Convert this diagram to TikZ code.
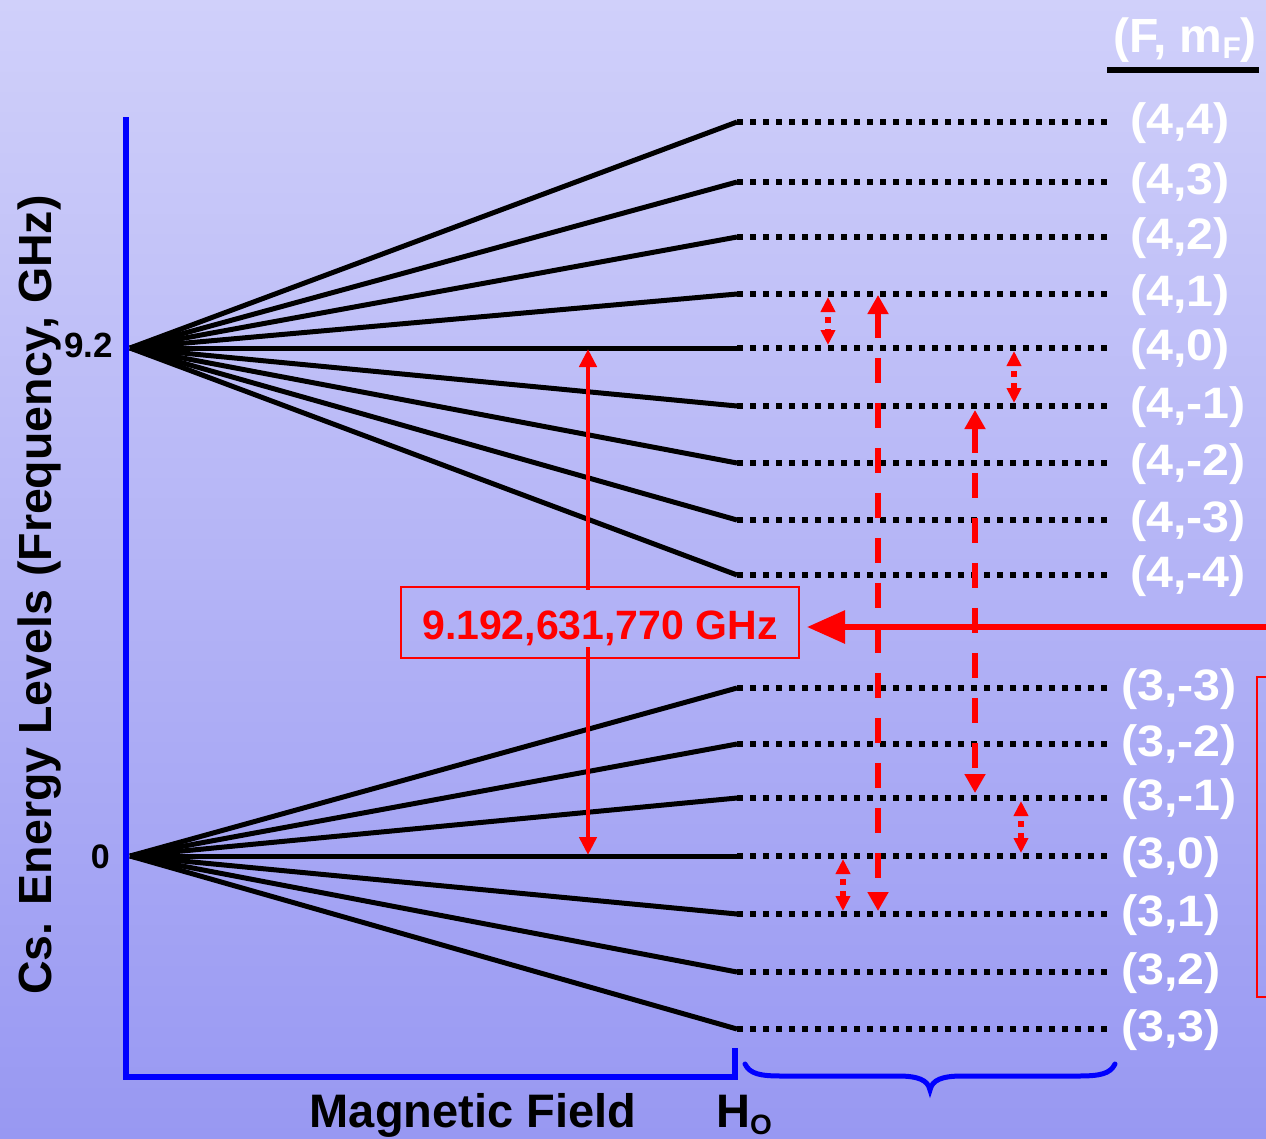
\documentclass[tikz,border=0pt]{standalone}
\usepackage{fontspec}
\setmainfont{Liberation Sans}
\newfontfamily\lblfont{Liberation Sans}[FakeStretch=1.1]
\usetikzlibrary{arrows.meta,calc}
\definecolor{bgtop}{RGB}{208,208,250}
\definecolor{bgmid}{RGB}{190,190,247}
\definecolor{bgbot}{RGB}{152,152,242}
\tikzset{
  fanline/.style={line width=5pt, black},
  dotline/.style={line width=6pt, black, dash pattern=on 6pt off 7pt},
  lbl/.style={text=white, font=\lblfont\bfseries\fontsize{44pt}{44pt}\selectfont, inner sep=0pt},
  axisline/.style={blue, line width=6pt},
  smallarr/.style={red, line width=6pt, {Triangle[length=15pt,width=14pt]}-{Triangle[length=15pt,width=14pt]}, dash pattern=on 6pt off 6pt, dash phase=6pt, shorten <=3pt, shorten >=3pt},
  longarr/.style={red, line width=6pt, {Triangle[length=19pt,width=20pt]}-{Triangle[length=19pt,width=20pt]}, dash pattern=on 25pt off 20pt},
  maintip/.tip={Triangle[length=18pt,width=17pt]},
  mainarr/.style={red, line width=4.5pt},
  bigarr/.style={red, line width=6pt, -{Triangle[length=38pt,width=32pt]}},
}
\begin{document}
\begin{tikzpicture}[x=1pt,y=-1pt]
\shade[top color=bgtop, middle color=bgmid, bottom color=bgbot] (0,0) rectangle (1266,1138);
\useasboundingbox (0,0) rectangle (1266,1138);

% origins
\coordinate (O4) at (130,348);
\coordinate (O3) at (130,856);

% F=4 levels
\foreach \k/\m/\y in {p4/4/122, p3/3/182, p2/2/237, p1/1/294, z/0/348, m1/-1/406, m2/-2/463, m3/-3/520, m4/-4/575} {
  \coordinate (A4\k) at (737,\y);
  \coordinate (B4\k) at (1107,\y);
  \draw[fanline] (O4) -- (A4\k);
  \draw[dotline] (A4\k) -- (B4\k);
  \node[lbl, anchor=base west] (T4\k) at (1130,\y+12) {(4,\m)};
}
% F=3 levels
\foreach \k/\m/\y in {m3/-3/688, m2/-2/744, m1/-1/798, z/0/856, p1/1/914, p2/2/972, p3/3/1029} {
  \coordinate (A3\k) at (737,\y);
  \coordinate (B3\k) at (1107,\y);
  \draw[fanline] (O3) -- (A3\k);
  \draw[dotline] (A3\k) -- (B3\k);
  \node[lbl, anchor=base west] (T3\k) at (1121,\y+12) {(3,\m)};
}

% axes
\coordinate (axtop) at (126,117);
\coordinate (axcorner) at (126,1077);
\coordinate (axend) at (735,1077);
\coordinate (axtick) at (735,1048);
\draw[axisline] (axtop) -- (axcorner) -- (axend) -- (axtick);

% brace
\draw[blue, line width=5pt, line cap=round]
  (745,1064) .. controls (750,1074) and (760,1076) .. (782,1076) -- (898,1076)
  .. controls (918,1076) and (928,1080) .. (930,1090)
  .. controls (932,1080) and (942,1076) .. (962,1076) -- (1078,1076)
  .. controls (1100,1076) and (1110,1074) .. (1115,1064);

% axis labels
\node[anchor=base, rotate=90, font=\bfseries\fontsize{46.5pt}{46.5pt}\selectfont, inner sep=0pt] (ytitle) at (51,595) {Cs. Energy Levels (Frequency, GHz)};
\node[anchor=base east, font=\bfseries\fontsize{35pt}{35pt}\selectfont, inner sep=0pt] (l92) at (113,357) {9.2};
\node[anchor=base east, font=\bfseries\fontsize{34pt}{34pt}\selectfont, inner sep=0pt] (l0) at (110,868) {0};
\node[anchor=base, font=\bfseries\fontsize{47pt}{47pt}\selectfont, inner sep=0pt] (xtitle) at (473,1127) {Magnetic Field};
\node[anchor=base west, font=\bfseries\fontsize{47pt}{47pt}\selectfont, inner sep=0pt] (ho) at (716,1127) {H\raisebox{-7pt}{\fontsize{28pt}{28pt}\selectfont O}};

% header
\node[anchor=base west, text=white, font=\bfseries\fontsize{48pt}{48pt}\selectfont, inner sep=0pt] (hdr) at (1113,52) {(F, m\raisebox{-6pt}{\fontsize{30pt}{30pt}\selectfont F})};
\coordinate (ulL) at (1107,70);
\coordinate (ulR) at (1259,70);
\draw[black, line width=6pt] (ulL) -- (ulR);

% frequency box
\node[draw=red, line width=2pt, minimum width=398pt, minimum height=71pt, inner sep=0pt] (freq) at (600,622.5) {};
\node[text=red, font=\bfseries\fontsize{41pt}{41pt}\selectfont, text height=49pt, text depth=8pt, inner xsep=4pt, inner ysep=0pt, anchor=base] (freqtxt) at (600,639) {9.192,631,770 GHz};

% arrow x positions
\coordinate (xa) at (828,0);
\coordinate (xb) at (878,0);
\coordinate (xc) at (975,0);
\coordinate (xd) at (1014,0);
\coordinate (xe) at (1021,0);
\coordinate (xf) at (843,0);
\coordinate (xm) at (588,0);

% transitions
\draw[mainarr, {maintip}-, shorten <=1pt] (A4z -| xm) -- (freqtxt.north -| xm);
\draw[mainarr, -{maintip}, shorten >=1pt] (freqtxt.south -| xm) -- (A3z -| xm);
\draw[longarr, shorten <=1pt, shorten >=3pt] (A4p1 -| xb) -- (A3p1 -| xb);
\draw[longarr, shorten <=4pt, shorten >=5pt] (A4m1 -| xc) -- (A3m1 -| xc);
\draw[smallarr] (A4p1 -| xa) -- (A4z -| xa);
\draw[smallarr] (A4z -| xd) -- (A4m1 -| xd);
\draw[smallarr] (A3m1 -| xe) -- (A3z -| xe);
\draw[smallarr] (A3z -| xf) -- (A3p1 -| xf);

% incoming arrow
\coordinate (src) at (1266,627);
\draw[bigarr, shorten >=7pt] (src) -- (freq.east |- src);

% right red box
\draw[red, line width=2pt] (1257,677) rectangle (1275,997);
\end{tikzpicture}
\end{document}
